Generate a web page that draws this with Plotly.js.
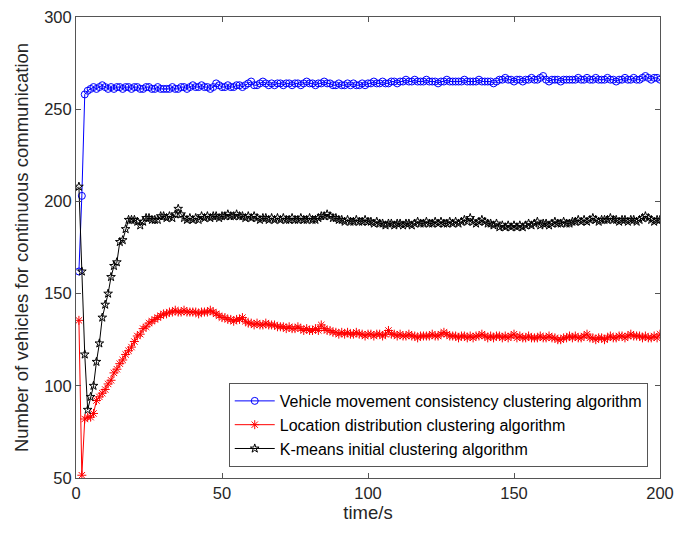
<!DOCTYPE html>
<html>
<head>
<meta charset="utf-8">
<script src="https://cdn.plot.ly/plotly-3.0.1.min.js"></script>
<style>html,body{margin:0;padding:0;background:#fff;} #chart{width:676px;height:533px;}</style>
</head>
<body>
<div id="chart"></div>
<script>
// time axis 1..200 s
const timeS = [];
for (let t = 1; t <= 200; t++) timeS.push(t);

const seriesNames = [
  "Vehicle movement consistency clustering algorithm",
  "Location distribution clustering algorithm",
  "K-means initial clustering algorithm"
];

const vehicleMovement = [
  162,203,258,260,261,262,261,262,263,262,
  261,262,261,262,262,261,262,262,261,262,
  262,261,261,262,262,261,261,262,261,261,
  261,261,262,261,261,262,262,261,262,263,
  262,262,263,262,262,261,262,264,263,262,
  262,263,262,262,263,263,262,263,264,265,
  263,263,264,265,264,263,264,263,264,264,
  263,264,264,263,264,264,263,264,265,264,
  264,263,264,264,265,264,264,263,263,264,
  263,263,264,263,264,263,263,264,263,264,
  264,265,264,264,265,264,264,265,265,264,
  265,265,266,265,265,266,265,265,265,266,
  265,265,265,264,265,265,266,265,265,265,
  265,265,266,265,265,265,265,266,265,265,
  265,265,264,265,266,266,267,266,266,265,
  266,266,265,266,266,267,266,266,267,268,
  266,265,266,266,266,265,266,266,266,266,
  266,267,266,266,267,266,266,267,266,266,
  266,267,266,266,265,266,266,267,266,266,
  267,266,266,267,268,267,266,267,267,266
];

const locationDistribution = [
  135.5,51.5,82,83,83,85,92,94,96,98,
  101,103,107,109,112,114,117,119,121,124,
  127,128,131,132,134,135,136,137,138,139,
  139,140,140,141,140,140,141,140,140,140,
  140,139,140,140,140,141,140,139,138,137,
  137,136,136,135,136,136,137,135,134,134,
  133,134,133,133,134,133,133,133,132,132,
  132,131,132,131,131,132,131,130,131,130,
  130,131,130,133,131,130,130,129,129,128,
  129,128,129,128,128,129,128,128,127,128,
  128,127,128,128,127,128,130,128,128,127,
  128,127,127,128,127,127,126,127,127,127,
  127,128,127,127,128,129,128,127,127,127,
  126,127,127,126,127,126,127,127,128,127,
  126,127,126,127,127,126,127,126,127,128,
  126,127,126,126,127,126,126,126,127,126,
  126,127,126,126,125,125,126,126,127,126,
  127,126,126,127,128,126,126,125,126,126,
  125,126,127,126,126,127,127,126,127,128,
  127,127,127,126,127,126,126,127,126,128
];

const kMeansInitial = [
  208,162,117,87,94,100,113,123,137,144,
  150,159,165,167,178,179,185,190,190,190,
  189,187,189,191,191,190,190,190,192,192,
  191,192,191,193,196,193,191,190,191,190,
  191,190,192,191,192,191,192,192,191,192,
  192,193,192,192,193,192,192,191,192,191,
  192,191,190,191,191,190,191,190,191,190,
  191,190,190,191,190,190,191,190,190,191,
  190,190,191,192,192,193,192,191,191,190,
  190,189,190,189,189,190,189,189,190,189,
  189,188,189,188,188,187,188,188,187,188,
  188,187,188,188,187,188,189,188,188,189,
  188,188,189,188,189,188,188,189,188,189,
  188,189,190,189,191,189,188,189,190,189,
  188,188,187,188,186,187,186,187,186,187,
  186,187,186,187,188,187,188,189,187,188,
  188,187,188,189,188,188,189,188,188,189,
  189,190,189,190,189,190,191,190,189,190,
  190,190,191,190,190,189,190,190,189,190,
  190,189,190,191,192,191,190,189,190,190
];

const xTicks = [0, 50, 100, 150, 200];
const yTicks = [50, 100, 150, 200, 250, 300];

const FONT = "Liberation Sans, Arial, sans-serif";

const traces = [
  {x: timeS, y: vehicleMovement, name: seriesNames[0], type: "scatter", mode: "lines+markers",
   line: {color: "#0000ff", width: 1},
   marker: {symbol: "circle-open", size: 7, color: "#0000ff", line: {width: 1}}},
  {x: timeS, y: locationDistribution, name: seriesNames[1], type: "scatter", mode: "lines+markers",
   line: {color: "#ff0000", width: 1},
   marker: {symbol: "asterisk-open", size: 7.5, color: "#ff0000", line: {width: 1, color: "#ff0000"}}},
  {x: timeS, y: kMeansInitial, name: seriesNames[2], type: "scatter", mode: "lines+markers",
   line: {color: "#000000", width: 1},
   marker: {symbol: "star-open", size: 6.5, color: "#000000", line: {width: 1}}}
];

const axisCommon = {
  showline: true, mirror: "ticks", linecolor: "#555", linewidth: 1,
  ticks: "inside", ticklen: 5, tickcolor: "#555", tickwidth: 1,
  showgrid: false, zeroline: false,
  tickfont: {family: FONT, size: 16.5, color: "#262626"}
};

const layout = {
  width: 676, height: 533,
  margin: {l: 76, r: 16, t: 17, b: 55},
  paper_bgcolor: "#ffffff", plot_bgcolor: "#ffffff",
  font: {family: FONT, color: "#262626"},
  showlegend: true,
  xaxis: Object.assign({}, axisCommon, {
    range: [0, 200], tickmode: "array", tickvals: xTicks, ticktext: xTicks.map(String),
    title: {text: "time/s", font: {family: FONT, size: 18.5, color: "#262626"}, standoff: 4}
  }),
  yaxis: Object.assign({}, axisCommon, {
    range: [50, 300], tickmode: "array", tickvals: yTicks, ticktext: yTicks.map(String),
    title: {text: "Number of vehicles for continuous communication", font: {family: FONT, size: 18.5, color: "#262626"}, standoff: 10}
  }),
  legend: {
    x: 0.979, y: 0.115, xanchor: "right", yanchor: "middle",
    bgcolor: "#ffffff", bordercolor: "#555", borderwidth: 1,
    font: {family: FONT, size: 16, color: "#000"},
    itemwidth: 40, tracegroupgap: 0
  }
};

Plotly.newPlot("chart", traces, layout, {displayModeBar: false, staticPlot: true});
</script>
</body>
</html>
